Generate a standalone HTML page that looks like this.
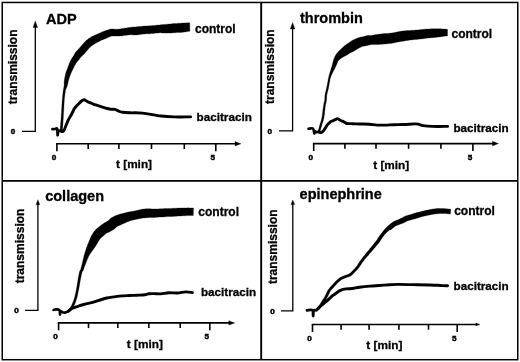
<!DOCTYPE html>
<html><head><meta charset="utf-8"><title>Platelet aggregation</title>
<style>html,body{margin:0;padding:0;background:#fff;width:520px;height:362px;overflow:hidden}svg{display:block;filter:grayscale(1)}</style>
</head><body>
<svg width="520" height="362" viewBox="0 0 520 362">
<rect x="0" y="0" width="520" height="362" fill="#fff"/>
<rect x="2.25" y="2.45" width="515.5" height="357.25" fill="none" stroke="#000" stroke-width="1.5"/>
<path d="M261.2 2.4 V359.8 M2 180.85 H517.9" stroke="#000" stroke-width="1.9"/>
<path d="M35.3 26.5 V131.4 H22" fill="none" stroke="#000" stroke-width="1.3"/>
<path d="M35.3 21 L33.0 27.5 L37.599999999999994 27.5 Z" fill="#000" stroke="#000" stroke-width="0.3" stroke-linejoin="round"/>
<path d="M56.1 143.8 H236" fill="none" stroke="#000" stroke-width="1.6"/>
<path d="M241 143.8 L235 141.5 L235 146.10000000000002 Z" fill="#000" stroke="#000" stroke-width="0.3" stroke-linejoin="round"/>
<path d="M56.9 143.8 V151.20000000000002" stroke="#000" stroke-width="1.6"/>
<path d="M88.2 143.8 V149.0" stroke="#000" stroke-width="1.6"/>
<path d="M118.9 143.8 V149.0" stroke="#000" stroke-width="1.6"/>
<path d="M151.5 143.8 V149.0" stroke="#000" stroke-width="1.6"/>
<path d="M184.3 143.8 V149.0" stroke="#000" stroke-width="1.6"/>
<path d="M215.8 143.8 V151.20000000000002" stroke="#000" stroke-width="1.6"/>
<text x="13" y="133.7" font-family="Liberation Sans, sans-serif" font-weight="bold" stroke="#000" stroke-width="0.5" font-size="8.1" text-anchor="middle">0</text>
<text x="53.9" y="160.1" font-family="Liberation Sans, sans-serif" font-weight="bold" stroke="#000" stroke-width="0.5" font-size="8.1" text-anchor="middle">0</text>
<text x="212.8" y="160.1" font-family="Liberation Sans, sans-serif" font-weight="bold" stroke="#000" stroke-width="0.5" font-size="8.1" text-anchor="middle">5</text>
<text x="116" y="168" font-family="Liberation Sans, sans-serif" font-weight="bold" stroke="#000" stroke-width="0.3" font-size="11.8">t [min]</text>
<text transform="translate(16.6 104.2) rotate(-90)" font-family="Liberation Sans, sans-serif" font-weight="bold" stroke="#000" stroke-width="0.3" font-size="12">transmission</text>
<text x="46" y="23.5" font-family="Liberation Sans, sans-serif" font-weight="bold" stroke="#000" stroke-width="0.3" font-size="14.5">ADP</text>
<text x="195" y="33.4" font-family="Liberation Sans, sans-serif" font-weight="bold" stroke="#000" stroke-width="0.3" font-size="12">control</text>
<text x="196.6" y="120.8" font-family="Liberation Sans, sans-serif" font-weight="bold" stroke="#000" stroke-width="0.3" font-size="11.7">bacitracin</text>
<path d="M292.6 28.0 V130.9 H279" fill="none" stroke="#000" stroke-width="1.3"/>
<path d="M292.6 22.5 L290.3 29.0 L294.90000000000003 29.0 Z" fill="#000" stroke="#000" stroke-width="0.3" stroke-linejoin="round"/>
<path d="M312.9 143.6 H493.5" fill="none" stroke="#000" stroke-width="1.6"/>
<path d="M498.5 143.6 L492.5 141.29999999999998 L492.5 145.9 Z" fill="#000" stroke="#000" stroke-width="0.3" stroke-linejoin="round"/>
<path d="M313.7 143.6 V151.0" stroke="#000" stroke-width="1.6"/>
<path d="M344.9 143.6 V148.79999999999998" stroke="#000" stroke-width="1.6"/>
<path d="M376.0 143.6 V148.79999999999998" stroke="#000" stroke-width="1.6"/>
<path d="M408.6 143.6 V148.79999999999998" stroke="#000" stroke-width="1.6"/>
<path d="M440.9 143.6 V148.79999999999998" stroke="#000" stroke-width="1.6"/>
<path d="M472.9 143.6 V151.0" stroke="#000" stroke-width="1.6"/>
<text x="269.7" y="133.6" font-family="Liberation Sans, sans-serif" font-weight="bold" stroke="#000" stroke-width="0.5" font-size="8.1" text-anchor="middle">0</text>
<text x="310.7" y="160.1" font-family="Liberation Sans, sans-serif" font-weight="bold" stroke="#000" stroke-width="0.5" font-size="8.1" text-anchor="middle">0</text>
<text x="469.9" y="160.1" font-family="Liberation Sans, sans-serif" font-weight="bold" stroke="#000" stroke-width="0.5" font-size="8.1" text-anchor="middle">5</text>
<text x="373.2" y="169" font-family="Liberation Sans, sans-serif" font-weight="bold" stroke="#000" stroke-width="0.3" font-size="11.8">t [min]</text>
<text transform="translate(273.8 104.0) rotate(-90)" font-family="Liberation Sans, sans-serif" font-weight="bold" stroke="#000" stroke-width="0.3" font-size="12">transmission</text>
<text x="300" y="22.7" font-family="Liberation Sans, sans-serif" font-weight="bold" stroke="#000" stroke-width="0.3" font-size="14.5">thrombin</text>
<text x="451.5" y="38.3" font-family="Liberation Sans, sans-serif" font-weight="bold" stroke="#000" stroke-width="0.3" font-size="12">control</text>
<text x="453.4" y="131.9" font-family="Liberation Sans, sans-serif" font-weight="bold" stroke="#000" stroke-width="0.3" font-size="11.7">bacitracin</text>
<path d="M37.9 203.7 V310.3 H25.1" fill="none" stroke="#000" stroke-width="1.3"/>
<path d="M37.9 199.7 L36.0 204.7 L39.8 204.7 Z" fill="#000" stroke="#000" stroke-width="0.3" stroke-linejoin="round"/>
<path d="M57.800000000000004 322.9 H229.8" fill="none" stroke="#000" stroke-width="1.6"/>
<path d="M234.8 322.9 L228.8 320.7 L228.8 325.09999999999997 Z" fill="#000" stroke="#000" stroke-width="0.3" stroke-linejoin="round"/>
<path d="M58.6 322.9 V330.29999999999995" stroke="#000" stroke-width="1.6"/>
<path d="M88.5 322.9 V328.09999999999997" stroke="#000" stroke-width="1.6"/>
<path d="M117.8 322.9 V328.09999999999997" stroke="#000" stroke-width="1.6"/>
<path d="M148.8 322.9 V328.09999999999997" stroke="#000" stroke-width="1.6"/>
<path d="M180.2 322.9 V328.09999999999997" stroke="#000" stroke-width="1.6"/>
<path d="M209.8 322.9 V330.29999999999995" stroke="#000" stroke-width="1.6"/>
<text x="16.5" y="313.0" font-family="Liberation Sans, sans-serif" font-weight="bold" stroke="#000" stroke-width="0.5" font-size="8.1" text-anchor="middle">0</text>
<text x="55.6" y="339.1" font-family="Liberation Sans, sans-serif" font-weight="bold" stroke="#000" stroke-width="0.5" font-size="8.1" text-anchor="middle">0</text>
<text x="206.8" y="339.1" font-family="Liberation Sans, sans-serif" font-weight="bold" stroke="#000" stroke-width="0.5" font-size="8.1" text-anchor="middle">5</text>
<text x="126.8" y="347.6" font-family="Liberation Sans, sans-serif" font-weight="bold" stroke="#000" stroke-width="0.3" font-size="11.8">t [min]</text>
<text transform="translate(24.2 283.3) rotate(-90)" font-family="Liberation Sans, sans-serif" font-weight="bold" stroke="#000" stroke-width="0.3" font-size="12">transmission</text>
<text x="45.2" y="200.7" font-family="Liberation Sans, sans-serif" font-weight="bold" stroke="#000" stroke-width="0.3" font-size="14.5">collagen</text>
<text x="198.3" y="216.1" font-family="Liberation Sans, sans-serif" font-weight="bold" stroke="#000" stroke-width="0.3" font-size="12">control</text>
<text x="200.9" y="296.1" font-family="Liberation Sans, sans-serif" font-weight="bold" stroke="#000" stroke-width="0.3" font-size="11.7">bacitracin</text>
<path d="M292.8 203.6 V310.9 H280.9" fill="none" stroke="#000" stroke-width="1.3"/>
<path d="M292.8 200 L290.90000000000003 204.6 L294.7 204.6 Z" fill="#000" stroke="#000" stroke-width="0.3" stroke-linejoin="round"/>
<path d="M311.7 324.5 H476.8" fill="none" stroke="#000" stroke-width="1.6"/>
<path d="M480 324.5 L475.8 323.1 L475.8 325.9 Z" fill="#000" stroke="#000" stroke-width="0.3" stroke-linejoin="round"/>
<path d="M312.5 324.5 V331.9" stroke="#000" stroke-width="1.6"/>
<path d="M341.1 324.5 V329.7" stroke="#000" stroke-width="1.6"/>
<path d="M369.1 324.5 V329.7" stroke="#000" stroke-width="1.6"/>
<path d="M398.9 324.5 V329.7" stroke="#000" stroke-width="1.6"/>
<path d="M428.5 324.5 V329.7" stroke="#000" stroke-width="1.6"/>
<path d="M457.2 324.5 V331.9" stroke="#000" stroke-width="1.6"/>
<text x="272.5" y="314.20000000000005" font-family="Liberation Sans, sans-serif" font-weight="bold" stroke="#000" stroke-width="0.5" font-size="8.1" text-anchor="middle">0</text>
<text x="309.5" y="340.5" font-family="Liberation Sans, sans-serif" font-weight="bold" stroke="#000" stroke-width="0.5" font-size="8.1" text-anchor="middle">0</text>
<text x="454.2" y="340.5" font-family="Liberation Sans, sans-serif" font-weight="bold" stroke="#000" stroke-width="0.5" font-size="8.1" text-anchor="middle">5</text>
<text x="366.3" y="349.2" font-family="Liberation Sans, sans-serif" font-weight="bold" stroke="#000" stroke-width="0.3" font-size="11.8">t [min]</text>
<text transform="translate(276.6 284.1) rotate(-90)" font-family="Liberation Sans, sans-serif" font-weight="bold" stroke="#000" stroke-width="0.3" font-size="12">transmission</text>
<text x="299.6" y="198.8" font-family="Liberation Sans, sans-serif" font-weight="bold" stroke="#000" stroke-width="0.3" font-size="14.5">epinephrine</text>
<text x="454.2" y="215.4" font-family="Liberation Sans, sans-serif" font-weight="bold" stroke="#000" stroke-width="0.3" font-size="12">control</text>
<text x="453.5" y="289.6" font-family="Liberation Sans, sans-serif" font-weight="bold" stroke="#000" stroke-width="0.3" font-size="11.7">bacitracin</text>
<path d="M52.40 129.20 C52.83 129.17 54.20 129.05 55.00 129.00 C55.80 128.95 56.77 127.87 57.20 128.90 C57.63 129.93 57.40 134.88 57.60 135.20 C57.80 135.52 57.92 131.47 58.40 130.80 C58.88 130.13 59.83 131.07 60.50 131.20 C61.17 131.33 62.08 131.53 62.40 131.60" fill="none" stroke="#000" stroke-width="2.7" stroke-linejoin="round" stroke-linecap="round"/>
<path d="M61.00 130.50 C61.43 130.58 62.80 131.75 63.60 131.00 C64.40 130.25 65.02 127.83 65.80 126.00 C66.58 124.17 67.33 121.97 68.30 120.00 C69.27 118.03 70.57 116.13 71.60 114.20 C72.63 112.27 73.40 110.05 74.50 108.40 C75.60 106.75 77.03 105.53 78.20 104.30 C79.37 103.07 80.53 101.77 81.50 101.00 C82.47 100.23 83.17 99.70 84.00 99.70 C84.83 99.70 85.83 100.63 86.50 101.00 C87.17 101.37 87.12 101.50 88.00 101.90 C88.88 102.30 90.52 102.90 91.80 103.40 C93.08 103.90 94.42 104.45 95.70 104.90 C96.98 105.35 98.22 105.68 99.50 106.10 C100.78 106.52 102.12 107.00 103.40 107.40 C104.68 107.80 105.92 108.18 107.20 108.50 C108.48 108.82 109.82 109.15 111.10 109.30 C112.38 109.45 113.62 109.10 114.90 109.40 C116.18 109.70 117.52 110.62 118.80 111.10 C120.08 111.58 120.67 112.02 122.60 112.30 C124.53 112.58 127.08 112.67 130.40 112.80 C133.72 112.93 137.40 112.57 142.50 113.10 C147.60 113.63 155.79 115.37 161.00 116.00 C166.21 116.63 168.82 116.75 173.75 116.90 C178.68 117.05 187.79 116.90 190.60 116.90" fill="none" stroke="#000" stroke-width="2.9" stroke-linejoin="round" stroke-linecap="round"/>
<path d="M308.50 128.80 C309.25 128.77 312.03 127.83 313.00 128.60 C313.97 129.37 313.92 132.93 314.30 133.40 C314.68 133.87 314.95 131.60 315.30 131.40 C315.65 131.20 315.85 132.12 316.40 132.20 C316.95 132.28 317.93 131.83 318.60 131.90 C319.27 131.97 320.10 132.48 320.40 132.60" fill="none" stroke="#000" stroke-width="2.6" stroke-linejoin="round" stroke-linecap="round"/>
<path d="M318.60 131.90 C318.90 132.02 319.87 132.55 320.40 132.60 C320.93 132.65 321.25 132.55 321.80 132.20 C322.35 131.85 323.05 131.28 323.70 130.50 C324.35 129.72 325.07 128.48 325.70 127.50 C326.33 126.52 326.87 125.42 327.50 124.60 C328.13 123.78 328.85 123.15 329.50 122.60 C330.15 122.05 330.45 121.78 331.40 121.30 C332.35 120.82 334.18 120.15 335.20 119.70 C336.22 119.25 336.60 118.47 337.50 118.60 C338.40 118.73 339.57 119.98 340.60 120.50 C341.63 121.02 342.67 121.20 343.70 121.70 C344.73 122.20 345.65 123.18 346.80 123.50 C347.95 123.82 349.07 123.53 350.60 123.60 C352.13 123.67 354.15 123.83 356.00 123.90 C357.85 123.97 359.47 123.93 361.70 124.00 C363.93 124.07 366.83 124.12 369.40 124.30 C371.97 124.48 374.53 124.97 377.10 125.10 C379.67 125.23 381.98 125.17 384.80 125.10 C387.62 125.03 390.88 124.80 394.00 124.70 C397.12 124.60 399.98 124.63 403.50 124.50 C407.02 124.37 412.52 123.92 415.10 123.90 C417.68 123.88 417.67 124.12 419.00 124.40 C420.33 124.68 420.87 125.27 423.10 125.60 C425.33 125.93 428.32 126.27 432.40 126.40 C436.48 126.53 445.07 126.40 447.60 126.40" fill="none" stroke="#000" stroke-width="2.9" stroke-linejoin="round" stroke-linecap="round"/>
<path d="M53.60 309.90 C54.00 309.82 55.02 309.35 56.00 309.40 C56.98 309.45 58.83 309.33 59.50 310.20 C60.17 311.07 59.85 314.43 60.00 314.60 C60.15 314.77 59.98 311.60 60.40 311.20 C60.82 310.80 61.80 311.97 62.50 312.20 C63.20 312.43 63.70 312.75 64.60 312.60 C65.50 312.45 66.80 311.93 67.90 311.30 C69.00 310.67 70.65 309.22 71.20 308.80" fill="none" stroke="#000" stroke-width="2.6" stroke-linejoin="round" stroke-linecap="round"/>
<path d="M68.50 311.30 C68.95 310.88 69.95 309.53 71.20 308.80 C72.45 308.07 74.70 307.38 76.00 306.90 C77.30 306.42 77.72 306.30 79.00 305.90 C80.28 305.50 81.63 305.05 83.70 304.50 C85.77 303.95 88.83 303.30 91.40 302.60 C93.97 301.90 96.53 301.07 99.10 300.30 C101.67 299.53 104.32 298.57 106.80 298.00 C109.28 297.43 111.52 297.25 114.00 296.90 C116.48 296.55 119.13 296.13 121.70 295.90 C124.27 295.67 126.83 295.62 129.40 295.50 C131.97 295.38 134.53 295.32 137.10 295.20 C139.67 295.08 142.88 295.03 144.80 294.80 C146.72 294.57 147.07 294.00 148.60 293.80 C150.13 293.60 152.02 293.58 154.00 293.60 C155.98 293.62 158.02 294.03 160.50 293.90 C162.98 293.77 166.08 292.95 168.90 292.80 C171.72 292.65 174.58 293.15 177.40 293.00 C180.22 292.85 183.30 291.97 185.80 291.90 C188.30 291.83 191.30 292.48 192.40 292.60" fill="none" stroke="#000" stroke-width="2.9" stroke-linejoin="round" stroke-linecap="round"/>
<path d="M307.00 310.40 C307.92 310.38 311.48 309.37 312.50 310.30 C313.52 311.23 312.90 315.95 313.10 316.00 C313.30 316.05 313.15 311.57 313.70 310.60 C314.25 309.63 315.65 310.53 316.40 310.20 C317.15 309.87 317.90 308.87 318.20 308.60" fill="none" stroke="#000" stroke-width="2.8" stroke-linejoin="round" stroke-linecap="round"/>
<path d="M318.00 308.60 C318.67 308.00 320.83 306.02 322.00 305.00 C323.17 303.98 324.00 303.37 325.00 302.50 C326.00 301.63 327.08 300.62 328.00 299.80 C328.92 298.98 329.73 298.28 330.50 297.60 C331.27 296.92 331.57 296.52 332.60 295.70 C333.63 294.88 335.32 293.62 336.70 292.70 C338.08 291.78 339.35 290.83 340.90 290.20 C342.45 289.57 344.10 289.18 346.00 288.90 C347.90 288.62 350.03 288.78 352.30 288.50 C354.57 288.22 356.65 287.60 359.60 287.20 C362.55 286.80 366.80 286.38 370.00 286.10 C373.20 285.82 375.47 285.72 378.80 285.50 C382.13 285.28 386.80 284.98 390.00 284.80 C393.20 284.62 393.45 284.42 398.00 284.40 C402.55 284.38 411.97 284.60 417.30 284.70 C422.63 284.80 426.55 284.90 430.00 285.00 C433.45 285.10 436.00 285.20 438.00 285.30 C440.00 285.40 440.40 285.52 442.00 285.60 C443.60 285.68 446.67 285.77 447.60 285.80" fill="none" stroke="#000" stroke-width="2.9" stroke-linejoin="round" stroke-linecap="round"/>
<path d="M62.4 130.9 62.4 130.6 62.4 130.2 62.5 129.8 62.5 129.3 62.5 128.8 62.6 128.3 62.6 127.7 62.7 127.1 62.7 126.5 62.8 125.9 62.8 125.2 62.9 124.6 62.9 123.9 62.9 123.2 63.0 122.5 63.0 121.9 63.1 121.2 63.1 120.5 63.2 119.9 63.2 119.3 63.3 118.7 63.3 118.1 63.3 117.5 63.4 116.9 63.4 116.3 63.4 115.6 63.5 115.0 63.5 114.4 63.5 113.8 63.6 113.2 63.6 112.5 63.6 111.9 63.7 111.3 63.7 110.7 63.7 110.2 63.8 109.6 63.8 109.0 63.8 108.5 63.8 108.0 63.9 107.5 63.9 107.0 63.9 106.5 63.9 106.1 64.0 105.3 64.0 104.6 64.1 104.0 64.1 103.4 64.1 102.9 64.2 102.4 64.2 101.9 64.2 101.5 64.3 101.0 64.3 100.6 64.3 100.1 64.4 99.5 64.4 98.9 64.5 98.3 64.5 97.8 64.6 97.2 64.7 96.7 64.7 96.1 64.8 95.6 64.8 95.0 64.9 94.5 65.0 93.9 65.1 93.3 65.2 92.8 65.2 92.2 65.3 91.7 65.4 91.1 65.5 90.6 65.6 90.1 65.8 89.6 66.0 89.1 66.2 88.6 66.4 88.1 66.6 87.6 66.9 87.1 67.1 86.5 67.3 85.9 67.4 85.3 67.6 84.7 67.7 84.2 67.8 83.7 67.9 83.2 68.0 82.7 68.1 82.2 68.2 81.7 68.3 81.2 68.5 80.7 68.6 80.2 68.7 79.7 68.9 79.2 69.1 78.6 69.2 78.1 69.4 77.6 69.5 77.1 69.7 76.6 69.9 76.1 70.1 75.6 70.3 75.1 70.5 74.6 70.7 74.1 70.9 73.6 71.0 73.2 71.2 72.7 71.4 72.3 71.6 71.8 71.9 71.4 72.1 70.9 72.3 70.4 72.5 69.9 72.8 69.4 73.0 68.9 73.3 68.4 73.5 68.0 73.7 67.5 74.0 67.0 74.2 66.6 74.4 66.1 74.7 65.7 74.9 65.2 75.2 64.8 75.4 64.3 75.7 63.9 75.9 63.5 76.2 63.1 76.4 62.7 76.7 62.4 77.0 62.0 77.4 61.6 77.7 61.1 78.1 60.7 78.5 60.2 78.9 59.7 79.3 59.2 79.7 58.6 80.1 58.1 80.4 57.7 80.7 57.3 81.0 56.9 81.3 56.7 81.6 56.4 81.9 56.1 82.2 55.8 82.6 55.5 83.1 55.1 83.6 54.6 84.0 54.2 84.4 53.7 84.7 53.3 85.1 52.9 85.5 52.5 85.8 52.0 86.2 51.6 86.6 51.1 87.0 50.7 87.3 50.2 87.7 49.8 88.0 49.4 88.3 49.0 88.7 48.7 89.0 48.3 89.4 47.9 89.7 47.6 90.0 47.3 90.3 47.0 90.7 46.7 91.1 46.4 91.4 46.1 91.8 45.8 92.2 45.5 92.6 45.2 93.1 44.9 93.5 44.6 93.9 44.4 94.4 44.1 94.8 43.8 95.2 43.6 95.6 43.3 96.1 43.0 96.6 42.8 97.1 42.5 97.6 42.2 98.1 42.0 98.5 41.7 99.0 41.5 99.5 41.2 99.9 41.0 100.4 40.8 100.9 40.5 101.3 40.3 101.8 40.1 102.4 39.9 102.9 39.7 103.4 39.5 103.9 39.3 104.4 39.1 105.0 38.9 105.5 38.7 105.9 38.4 106.4 38.2 106.8 38.0 107.2 37.8 107.7 37.6 108.2 37.4 108.7 37.2 109.2 36.9 109.7 36.7 110.2 36.5 110.6 36.4 111.0 36.2 111.4 36.1 111.7 36.1 112.0 36.0 112.3 36.0 112.8 36.0 113.3 36.0 113.8 36.0 114.5 36.0 115.1 36.0 115.7 36.0 116.2 36.0 116.7 36.1 117.2 36.1 117.8 36.1 118.4 36.1 119.0 36.1 119.7 36.1 120.3 36.0 121.0 36.0 121.6 35.9 122.2 35.8 122.7 35.7 123.3 35.6 124.0 35.6 124.5 35.5 125.1 35.4 125.7 35.3 126.3 35.3 127.0 35.2 127.6 35.1 128.3 35.0 128.9 34.9 129.4 34.9 129.9 34.8 130.3 34.8 131.0 34.8 131.5 34.8 131.9 34.8 132.3 34.8 132.9 34.9 133.5 34.9 134.0 34.9 134.5 34.9 135.0 34.9 135.7 34.9 136.4 34.9 137.3 34.9 137.8 34.8 138.3 34.8 138.9 34.7 139.5 34.6 140.0 34.5 140.6 34.4 141.2 34.3 141.9 34.3 142.5 34.2 143.0 34.1 143.6 34.0 144.1 34.0 144.7 33.9 145.2 33.9 145.8 33.9 146.4 33.8 147.0 33.8 147.6 33.8 148.2 33.8 148.8 33.8 149.3 33.7 149.9 33.7 150.4 33.7 151.0 33.6 151.7 33.6 152.3 33.5 152.8 33.5 153.4 33.4 153.9 33.4 154.3 33.3 154.8 33.2 155.4 33.2 155.9 33.1 156.4 33.1 157.0 33.0 157.5 33.0 158.0 32.9 158.5 32.9 159.0 32.9 159.6 32.8 160.2 32.8 160.6 32.8 161.1 32.8 161.6 32.9 162.1 32.9 162.7 32.9 163.2 33.0 163.8 33.0 164.4 33.0 165.0 33.1 165.6 33.1 166.2 33.1 166.8 33.1 167.4 33.1 168.1 33.1 168.7 33.1 169.3 33.1 169.9 33.0 170.5 33.0 171.1 32.9 171.7 32.9 172.3 32.9 172.9 32.8 173.5 32.8 174.0 32.8 174.6 32.7 175.1 32.7 175.7 32.7 176.2 32.6 176.8 32.6 177.3 32.6 177.9 32.6 178.5 32.5 179.0 32.5 179.6 32.5 180.2 32.4 180.7 32.4 181.3 32.4 181.9 32.3 182.5 32.3 183.2 32.2 183.9 32.1 184.5 32.0 185.2 31.9 185.8 31.8 186.4 31.7 186.9 31.6 187.4 31.5 187.8 31.4 188.2 31.4 188.9 31.3 189.3 31.2 189.6 31.2 189.9 31.1 189.7 22.9 189.5 22.8 189.1 22.8 188.4 22.8 187.4 22.8 187.0 22.8 186.5 22.9 185.9 22.9 185.4 22.9 184.8 23.0 184.2 23.0 183.6 23.0 182.9 23.1 182.3 23.1 181.7 23.1 181.1 23.2 180.7 23.2 180.2 23.2 179.6 23.3 179.1 23.3 178.6 23.3 178.0 23.3 177.4 23.4 176.9 23.4 176.3 23.4 175.7 23.5 175.2 23.5 174.6 23.5 174.0 23.6 173.4 23.6 172.7 23.7 172.1 23.7 171.5 23.8 170.9 23.9 170.4 23.9 169.8 24.0 169.2 24.1 168.6 24.1 168.1 24.2 167.5 24.2 167.0 24.3 166.5 24.3 166.0 24.4 165.4 24.4 164.9 24.5 164.3 24.5 163.7 24.6 163.1 24.6 162.6 24.6 162.0 24.7 161.4 24.7 160.9 24.8 160.3 24.8 159.8 24.9 159.1 25.0 158.4 25.0 157.8 25.1 157.2 25.1 156.6 25.2 156.1 25.2 155.6 25.3 155.1 25.4 154.6 25.4 154.1 25.5 153.5 25.5 153.0 25.6 152.6 25.6 152.1 25.6 151.6 25.7 151.1 25.7 150.4 25.8 150.0 25.8 149.5 25.8 149.0 25.8 148.4 25.9 147.9 25.9 147.3 25.9 146.6 25.9 146.0 26.0 145.4 26.0 144.7 26.0 144.1 26.1 143.5 26.1 142.8 26.2 142.2 26.2 141.5 26.3 140.9 26.4 140.3 26.4 139.6 26.5 139.0 26.6 138.4 26.6 137.9 26.7 137.4 26.7 136.9 26.8 136.5 26.8 135.8 26.9 135.3 27.0 134.8 27.0 134.4 27.0 133.9 27.1 133.3 27.1 132.8 27.1 132.4 27.2 131.9 27.2 131.2 27.2 130.5 27.3 129.7 27.4 129.1 27.5 128.5 27.6 127.9 27.7 127.3 27.8 126.6 27.9 125.9 28.0 125.3 28.1 124.7 28.2 124.1 28.3 123.5 28.4 123.0 28.4 122.2 28.6 121.6 28.7 121.0 28.8 120.5 28.9 120.0 29.0 119.6 29.1 119.1 29.1 118.7 29.1 118.3 29.2 117.8 29.2 117.4 29.2 116.8 29.2 116.3 29.2 115.8 29.2 115.3 29.2 114.7 29.2 114.2 29.1 113.6 29.1 112.9 29.0 112.2 29.0 111.4 29.1 110.5 29.1 109.8 29.3 109.1 29.5 108.4 29.7 107.7 29.9 107.2 30.1 106.6 30.3 106.1 30.5 105.6 30.6 105.1 30.8 104.5 31.0 104.0 31.2 103.5 31.4 103.0 31.6 102.5 31.7 102.0 31.9 101.5 32.2 101.0 32.4 100.4 32.7 99.9 33.0 99.4 33.2 98.8 33.5 98.4 33.7 97.9 33.9 97.4 34.1 96.9 34.3 96.4 34.5 95.8 34.8 95.3 35.0 94.7 35.2 94.2 35.5 93.7 35.7 93.1 36.0 92.6 36.3 92.0 36.5 91.4 36.8 90.8 37.2 90.2 37.5 89.7 37.9 89.1 38.2 88.6 38.6 88.1 39.0 87.6 39.4 87.1 39.8 86.6 40.2 86.1 40.6 85.6 41.1 85.2 41.5 84.7 42.0 84.3 42.4 83.9 42.9 83.5 43.3 83.1 43.7 82.7 44.2 82.3 44.7 81.9 45.1 81.6 45.6 81.2 46.0 80.9 46.4 80.6 46.8 80.2 47.2 79.9 47.6 79.5 48.0 79.2 48.4 78.8 48.7 78.5 49.1 78.2 49.4 77.9 49.7 77.6 50.1 77.2 50.5 76.7 50.9 76.2 51.5 75.7 52.1 75.3 52.7 74.9 53.3 74.6 53.9 74.3 54.4 74.0 55.0 73.8 55.5 73.5 55.9 73.2 56.3 72.9 56.8 72.6 57.2 72.3 57.7 71.9 58.3 71.5 58.9 71.2 59.5 70.9 60.0 70.6 60.5 70.3 61.0 70.1 61.6 69.9 62.1 69.6 62.6 69.4 63.1 69.2 63.7 69.0 64.2 68.8 64.8 68.6 65.3 68.4 65.8 68.2 66.4 68.0 66.9 67.8 67.4 67.7 67.9 67.5 68.4 67.3 68.8 67.1 69.3 66.9 69.8 66.7 70.3 66.5 70.9 66.3 71.4 66.1 72.0 66.0 72.5 65.8 73.1 65.7 73.6 65.5 74.2 65.4 74.7 65.3 75.3 65.1 75.9 65.0 76.4 64.9 77.0 64.8 77.6 64.7 78.1 64.6 78.7 64.4 79.3 64.4 79.9 64.3 80.5 64.2 81.1 64.1 81.7 64.1 82.3 64.1 82.8 64.1 83.3 64.2 83.9 64.2 84.3 64.2 84.8 64.1 85.3 64.1 85.8 64.0 86.2 63.9 86.8 63.8 87.3 63.7 87.8 63.6 88.4 63.5 89.0 63.4 89.7 63.3 90.2 63.2 90.8 63.1 91.3 63.0 91.9 63.0 92.5 62.9 93.1 62.9 93.6 62.8 94.2 62.8 94.8 62.7 95.3 62.6 95.9 62.6 96.5 62.5 97.0 62.5 97.6 62.4 98.1 62.4 98.7 62.3 99.3 62.3 99.9 62.2 100.4 62.2 100.9 62.1 101.3 62.1 101.8 62.1 102.3 62.0 102.7 62.0 103.3 62.0 103.8 61.9 104.5 61.9 105.2 61.9 105.9 61.8 106.4 61.8 106.8 61.8 107.3 61.7 107.8 61.7 108.4 61.7 108.9 61.6 109.5 61.6 110.0 61.6 110.6 61.5 111.2 61.5 111.8 61.5 112.4 61.4 113.0 61.4 113.7 61.3 114.3 61.3 114.9 61.3 115.5 61.2 116.1 61.2 116.7 61.1 117.3 61.1 117.9 61.1 118.5 61.0 119.1 61.0 119.7 60.9 120.4 60.9 121.0 60.8 121.7 60.7 122.4 60.7 123.0 60.6 123.7 60.6 124.4 60.5 125.1 60.5 125.7 60.4 126.3 60.3 127.0 60.3 127.6 60.2 128.1 60.2 128.6 60.1 129.1 60.1 129.6 60.1 130.0 60.0 130.4 60.0 130.7Z" fill="#000" stroke="#000" stroke-width="0.3" stroke-linejoin="round"/>
<path d="M320.0 131.8 320.1 131.4 320.2 131.0 320.3 130.5 320.5 130.0 320.6 129.4 320.8 128.7 321.0 128.1 321.2 127.4 321.4 126.8 321.5 126.2 321.7 125.6 321.9 125.1 322.0 124.5 322.2 123.9 322.4 123.3 322.6 122.8 322.7 122.3 322.9 121.8 323.1 121.2 323.2 120.7 323.4 120.1 323.5 119.6 323.6 119.0 323.8 118.5 323.9 117.9 324.0 117.3 324.1 116.8 324.2 116.2 324.3 115.6 324.4 115.0 324.5 114.5 324.5 113.9 324.6 113.3 324.6 112.8 324.7 112.2 324.7 111.6 324.8 111.1 324.8 110.6 324.9 110.0 325.0 109.5 325.0 108.9 325.1 108.4 325.1 107.9 325.2 107.3 325.3 106.8 325.4 106.2 325.5 105.7 325.5 105.2 325.6 104.6 325.7 104.1 325.9 103.5 326.0 103.0 326.1 102.4 326.2 101.9 326.4 101.3 326.5 100.7 326.5 100.1 326.6 99.5 326.6 98.9 326.7 98.3 326.7 97.8 326.7 97.2 326.7 96.6 326.7 96.1 326.8 95.6 326.8 95.1 326.9 94.6 327.0 94.1 327.2 93.6 327.3 93.1 327.4 92.6 327.6 92.1 327.7 91.5 327.8 91.0 328.0 90.4 328.1 89.9 328.2 89.3 328.4 88.7 328.5 88.2 328.6 87.6 328.7 87.0 328.8 86.4 328.9 85.9 329.0 85.3 329.1 84.7 329.2 84.2 329.3 83.6 329.4 83.1 329.5 82.6 329.6 82.0 329.7 81.4 329.8 80.9 329.9 80.4 330.0 79.8 330.1 79.3 330.2 78.8 330.3 78.3 330.5 77.8 330.7 77.3 330.8 76.8 331.0 76.3 331.2 75.7 331.4 75.2 331.7 74.7 331.9 74.2 332.2 73.7 332.4 73.1 332.7 72.6 333.0 72.1 333.2 71.5 333.5 71.0 333.7 70.6 334.0 70.0 334.3 69.5 334.5 69.0 334.7 68.6 335.0 68.1 335.2 67.6 335.4 67.2 335.7 66.6 335.9 66.1 336.2 65.6 336.4 65.1 336.7 64.6 336.9 64.0 337.2 63.4 337.4 62.8 337.5 62.3 337.7 61.8 337.9 61.4 338.1 61.0 338.4 60.7 338.7 60.4 339.0 60.1 339.4 59.7 339.8 59.4 340.1 59.1 340.5 58.8 340.9 58.6 341.2 58.3 341.6 58.1 342.0 57.8 342.4 57.6 342.8 57.3 343.3 57.0 343.7 56.8 344.1 56.6 344.5 56.3 345.0 56.1 345.5 55.8 346.0 55.6 346.6 55.3 347.2 55.0 347.7 54.6 348.2 54.2 348.7 53.9 349.2 53.6 349.6 53.3 350.1 53.0 350.4 52.8 350.8 52.6 351.3 52.4 351.7 52.2 352.2 52.0 352.8 51.7 353.4 51.4 354.1 51.1 354.6 50.7 355.2 50.4 355.7 50.1 356.1 49.8 356.5 49.5 356.9 49.3 357.3 49.0 357.8 48.8 358.1 48.6 358.6 48.3 359.1 48.1 359.6 47.8 360.1 47.5 360.6 47.3 361.1 47.0 361.6 46.8 362.0 46.6 362.3 46.5 362.7 46.4 362.9 46.3 363.2 46.3 363.6 46.2 364.1 46.1 364.7 46.0 365.4 45.9 366.1 45.8 366.7 45.6 367.2 45.5 367.7 45.4 368.1 45.3 368.5 45.2 368.8 45.2 369.1 45.1 369.5 45.0 369.9 44.9 370.3 44.8 370.8 44.7 371.3 44.6 371.9 44.5 372.4 44.5 372.9 44.5 373.4 44.5 373.9 44.6 374.5 44.6 375.1 44.6 375.7 44.6 376.5 44.6 376.9 44.5 377.4 44.5 378.0 44.5 378.5 44.4 379.1 44.4 379.6 44.4 380.2 44.3 380.8 44.3 381.4 44.2 382.0 44.2 382.6 44.2 383.1 44.1 383.7 44.1 384.2 44.0 384.7 44.0 385.2 43.9 385.8 43.9 386.3 43.8 386.9 43.8 387.5 43.8 388.0 43.7 388.6 43.6 389.2 43.6 389.8 43.5 390.4 43.4 391.1 43.4 391.7 43.3 392.3 43.2 393.0 43.0 393.6 42.9 394.2 42.8 394.8 42.7 395.4 42.6 395.9 42.4 396.5 42.3 397.0 42.2 397.5 42.1 398.0 42.0 398.4 41.9 399.1 41.8 399.7 41.7 400.2 41.6 400.7 41.5 401.1 41.5 401.6 41.4 402.1 41.3 402.7 41.2 403.2 41.2 403.7 41.1 404.2 41.0 404.7 40.9 405.2 40.8 405.8 40.7 406.3 40.6 406.9 40.5 407.5 40.4 408.0 40.4 408.6 40.3 409.2 40.2 409.7 40.1 410.2 40.1 410.7 40.0 411.2 39.9 411.8 39.9 412.3 39.8 412.8 39.8 413.4 39.7 414.0 39.7 414.5 39.6 415.1 39.6 415.7 39.5 416.2 39.4 416.8 39.4 417.4 39.3 418.1 39.3 418.7 39.2 419.4 39.1 420.0 39.1 420.6 39.0 421.2 38.9 421.8 38.9 422.4 38.8 423.0 38.7 423.5 38.7 424.0 38.6 424.7 38.5 425.3 38.4 425.9 38.3 426.4 38.3 426.9 38.2 427.4 38.1 427.8 38.0 428.4 38.0 428.9 37.9 429.4 37.9 429.9 37.9 430.4 37.8 430.9 37.8 431.5 37.8 432.1 37.7 432.8 37.7 433.4 37.6 433.9 37.6 434.5 37.5 435.0 37.4 435.6 37.4 436.2 37.3 436.8 37.2 437.4 37.2 438.0 37.1 438.5 37.0 439.1 37.0 439.6 36.9 440.1 36.9 440.6 36.8 441.3 36.7 442.0 36.6 442.6 36.5 443.2 36.4 443.7 36.3 444.2 36.3 444.7 36.2 445.1 36.1 445.7 36.0 446.3 36.0 446.7 35.9 447.2 35.9 447.5 35.8 447.5 29.4 447.2 29.3 446.8 29.3 446.3 29.2 445.6 29.1 444.9 29.1 444.4 29.1 443.9 29.0 443.4 29.0 442.8 28.9 442.2 28.9 441.6 28.9 440.9 28.8 440.2 28.8 439.7 28.8 439.2 28.8 438.7 28.8 438.1 28.8 437.5 28.8 436.9 28.8 436.3 28.8 435.7 28.8 435.1 28.8 434.5 28.8 434.0 28.8 433.4 28.8 433.0 28.8 432.3 28.8 431.7 28.8 431.1 28.8 430.5 28.9 429.9 28.9 429.3 28.9 428.8 28.9 428.2 29.0 427.6 29.0 427.0 29.1 426.4 29.1 425.9 29.1 425.3 29.2 424.8 29.2 424.2 29.3 423.7 29.3 423.0 29.4 422.5 29.4 422.0 29.5 421.4 29.6 420.8 29.6 420.2 29.7 419.6 29.7 419.0 29.8 418.4 29.9 417.8 29.9 417.2 30.0 416.6 30.1 416.0 30.1 415.5 30.1 414.9 30.2 414.4 30.2 413.9 30.2 413.3 30.2 412.8 30.3 412.2 30.3 411.6 30.3 411.1 30.3 410.5 30.4 409.9 30.4 409.3 30.4 408.7 30.5 408.1 30.5 407.5 30.6 406.9 30.6 406.3 30.7 405.7 30.7 405.1 30.8 404.5 30.8 403.9 30.9 403.3 30.9 402.8 31.0 402.3 31.1 401.7 31.1 401.3 31.2 400.5 31.3 399.9 31.4 399.3 31.5 398.8 31.6 398.3 31.7 397.8 31.8 397.2 31.9 396.6 32.1 396.1 32.2 395.6 32.3 395.1 32.4 394.5 32.5 394.0 32.6 393.4 32.7 392.9 32.8 392.3 32.9 391.8 32.9 391.2 33.0 390.7 33.1 390.2 33.2 389.7 33.2 389.3 33.3 388.8 33.3 388.3 33.4 387.8 33.4 387.2 33.5 386.7 33.5 386.2 33.5 385.6 33.5 385.1 33.6 384.5 33.6 383.9 33.6 383.3 33.7 382.7 33.7 382.2 33.8 381.6 33.9 381.0 33.9 380.4 34.0 379.8 34.1 379.2 34.2 378.6 34.2 378.1 34.3 377.5 34.4 377.0 34.4 376.5 34.5 376.0 34.6 375.5 34.6 374.9 34.7 374.2 34.9 373.7 35.0 373.1 35.1 372.6 35.2 372.1 35.3 371.6 35.4 371.1 35.5 370.5 35.5 370.0 35.5 369.5 35.5 368.9 35.5 368.3 35.5 367.7 35.6 367.0 35.6 366.3 35.8 365.7 36.0 365.1 36.1 364.6 36.3 364.1 36.5 363.7 36.6 363.4 36.7 363.1 36.8 362.8 36.8 362.3 36.8 361.7 36.9 361.0 37.0 360.2 37.2 359.3 37.5 358.7 37.7 358.0 37.9 357.4 38.1 356.8 38.4 356.1 38.6 355.5 38.9 354.9 39.2 354.2 39.4 353.6 39.7 353.0 40.0 352.3 40.4 351.7 40.8 351.1 41.2 350.6 41.6 350.1 41.9 349.7 42.2 349.3 42.5 348.9 42.7 348.5 43.0 348.1 43.3 347.6 43.6 347.1 44.0 346.5 44.3 346.0 44.7 345.4 45.2 344.8 45.6 344.2 46.1 343.7 46.5 343.3 46.9 342.8 47.3 342.4 47.7 342.0 48.0 341.7 48.4 341.3 48.8 340.9 49.2 340.4 49.6 339.9 50.0 339.4 50.5 338.9 51.0 338.5 51.4 338.1 51.9 337.8 52.3 337.4 52.8 337.0 53.3 336.6 53.7 336.2 54.2 335.9 54.8 335.5 55.4 335.2 55.9 334.9 56.5 334.6 57.1 334.4 57.7 334.1 58.4 333.9 59.0 333.6 59.7 333.4 60.4 333.3 61.0 333.1 61.6 333.0 62.1 332.9 62.6 332.7 63.1 332.6 63.7 332.4 64.2 332.3 64.7 332.1 65.3 332.0 65.8 331.8 66.3 331.7 66.8 331.5 67.3 331.4 67.8 331.2 68.3 331.0 68.8 330.9 69.4 330.7 69.9 330.6 70.5 330.4 71.0 330.2 71.6 330.0 72.2 329.8 72.8 329.7 73.3 329.5 73.9 329.4 74.4 329.2 75.1 329.0 75.6 328.9 76.2 328.8 76.8 328.6 77.3 328.5 77.8 328.4 78.4 328.3 79.0 328.2 79.5 328.1 80.0 328.0 80.6 327.9 81.1 327.8 81.7 327.7 82.2 327.6 82.8 327.5 83.3 327.4 83.9 327.3 84.4 327.2 85.0 327.1 85.5 327.0 86.1 326.9 86.6 326.7 87.2 326.6 87.8 326.5 88.3 326.4 88.9 326.2 89.4 326.1 90.0 326.0 90.6 325.9 91.1 325.7 91.6 325.6 92.1 325.4 92.6 325.3 93.1 325.2 93.7 325.1 94.3 325.0 94.9 324.9 95.4 324.9 96.0 324.8 96.6 324.8 97.1 324.8 97.7 324.8 98.3 324.8 98.8 324.7 99.4 324.7 99.9 324.6 100.4 324.5 100.9 324.4 101.5 324.3 102.0 324.1 102.6 324.0 103.1 323.9 103.7 323.8 104.3 323.7 104.8 323.6 105.4 323.5 105.9 323.4 106.5 323.3 107.0 323.2 107.6 323.1 108.1 323.1 108.7 323.0 109.2 322.9 109.8 322.8 110.3 322.8 110.9 322.7 111.5 322.7 112.0 322.6 112.6 322.6 113.1 322.5 113.7 322.5 114.2 322.4 114.8 322.3 115.3 322.2 115.8 322.1 116.4 322.0 116.9 321.9 117.5 321.8 118.0 321.7 118.6 321.6 119.1 321.4 119.7 321.3 120.2 321.1 120.7 321.0 121.2 320.8 121.7 320.7 122.2 320.5 122.7 320.3 123.3 320.1 123.9 319.9 124.5 319.8 125.0 319.6 125.6 319.4 126.2 319.3 126.9 319.1 127.5 318.9 128.2 318.7 128.8 318.5 129.4 318.4 130.0 318.2 130.5 318.1 130.9 318.0 131.2Z" fill="#000" stroke="#000" stroke-width="0.3" stroke-linejoin="round"/>
<path d="M70.4 311.3 70.6 311.0 70.9 310.7 71.3 310.2 71.7 309.7 72.2 309.0 72.4 308.6 72.7 308.2 72.9 307.7 73.2 307.3 73.5 306.8 73.7 306.2 74.0 305.7 74.3 305.1 74.6 304.5 74.8 304.0 75.0 303.5 75.2 302.9 75.4 302.4 75.6 301.8 75.8 301.3 76.0 300.7 76.2 300.1 76.4 299.5 76.6 299.0 76.7 298.4 76.9 297.8 77.1 297.3 77.2 296.7 77.3 296.1 77.5 295.6 77.6 295.0 77.7 294.5 77.8 293.9 77.9 293.4 78.0 292.8 78.1 292.3 78.2 291.8 78.3 291.2 78.4 290.7 78.6 290.1 78.7 289.6 78.8 289.0 78.9 288.5 79.0 288.0 79.1 287.4 79.2 286.9 79.3 286.3 79.4 285.8 79.5 285.3 79.6 284.7 79.7 284.1 79.8 283.5 79.9 282.9 80.0 282.3 80.1 281.7 80.2 281.1 80.3 280.5 80.4 279.9 80.5 279.4 80.6 278.8 80.7 278.2 80.8 277.7 81.0 277.1 81.1 276.5 81.2 275.9 81.3 275.3 81.5 274.7 81.6 274.2 81.7 273.6 81.8 273.2 81.9 272.7 82.0 272.4 82.3 271.8 82.4 271.6 82.8 271.1 83.1 270.4 83.4 269.9 83.6 269.3 83.8 268.8 84.0 268.2 84.1 267.6 84.3 267.0 84.5 266.5 84.7 265.9 85.0 265.4 85.2 264.9 85.4 264.3 85.7 263.8 85.9 263.2 86.1 262.6 86.3 262.1 86.5 261.6 86.7 261.1 86.9 260.6 87.1 260.0 87.3 259.5 87.5 259.0 87.7 258.6 87.9 258.0 88.2 257.5 88.4 257.0 88.6 256.5 88.9 256.0 89.1 255.5 89.4 255.1 89.6 254.6 89.9 254.2 90.2 253.8 90.5 253.3 90.8 252.8 91.1 252.4 91.5 251.9 91.8 251.5 92.1 251.1 92.4 250.6 92.7 250.2 93.0 249.8 93.3 249.4 93.6 248.9 93.9 248.5 94.3 248.0 94.6 247.6 94.9 247.2 95.2 246.7 95.5 246.2 95.8 245.8 96.1 245.3 96.5 244.8 96.8 244.3 97.1 243.7 97.4 243.2 97.7 242.7 97.9 242.2 98.1 241.8 98.4 241.4 98.6 241.0 98.8 240.7 99.1 240.3 99.4 239.9 99.7 239.5 100.0 239.1 100.4 238.7 100.7 238.3 101.0 238.0 101.2 237.7 101.5 237.4 101.7 237.2 102.0 237.0 102.3 236.8 102.7 236.5 103.3 236.1 103.7 235.7 104.1 235.3 104.5 234.9 104.9 234.5 105.3 234.2 105.6 233.8 106.0 233.6 106.3 233.3 106.6 233.1 107.0 233.0 107.3 232.8 107.8 232.6 108.2 232.4 108.8 232.2 109.3 231.9 109.9 231.7 110.3 231.4 110.8 231.1 111.3 230.9 111.8 230.6 112.4 230.2 113.0 229.9 113.6 229.5 114.3 229.0 115.0 228.4 115.7 227.8 116.2 227.3 116.5 226.9 116.7 226.7 116.8 226.6 116.9 226.5 117.1 226.5 117.3 226.3 117.7 226.2 118.1 226.0 118.5 225.8 119.0 225.6 119.5 225.4 120.0 225.2 120.5 225.0 121.0 224.7 121.4 224.5 121.9 224.3 122.4 224.1 122.9 223.9 123.4 223.6 124.0 223.4 124.5 223.2 125.0 222.9 125.5 222.7 126.0 222.5 126.5 222.2 127.1 222.0 127.6 221.8 128.1 221.6 128.7 221.4 129.2 221.2 129.6 221.0 130.1 220.8 130.6 220.7 131.0 220.5 131.4 220.4 131.9 220.3 132.4 220.2 132.9 220.1 133.5 220.0 134.0 219.8 134.6 219.7 135.2 219.6 135.8 219.4 136.4 219.3 137.0 219.2 137.6 219.0 138.1 218.9 138.7 218.8 139.3 218.7 139.8 218.6 140.4 218.5 141.0 218.4 141.5 218.3 142.0 218.2 142.5 218.1 143.0 218.1 143.6 218.0 144.1 217.9 144.6 217.9 145.1 217.9 145.6 217.8 146.1 217.8 146.6 217.7 147.1 217.7 147.6 217.7 148.1 217.7 148.7 217.6 149.2 217.6 149.8 217.6 150.3 217.6 150.9 217.6 151.4 217.5 152.0 217.5 152.6 217.5 153.2 217.5 153.8 217.5 154.4 217.4 155.0 217.4 155.6 217.4 156.2 217.3 156.7 217.3 157.3 217.3 157.8 217.2 158.4 217.2 158.9 217.1 159.4 217.1 160.0 217.1 160.5 217.1 161.1 217.0 161.6 217.0 162.2 217.0 162.8 216.9 163.3 216.9 163.9 216.9 164.5 216.8 165.0 216.8 165.6 216.7 166.1 216.7 166.6 216.7 167.1 216.6 167.6 216.6 168.1 216.6 168.6 216.5 169.1 216.5 169.6 216.5 170.1 216.5 170.7 216.5 171.3 216.5 171.8 216.4 172.4 216.4 172.9 216.4 173.5 216.4 174.0 216.3 174.6 216.3 175.1 216.3 175.6 216.2 176.2 216.2 176.7 216.2 177.3 216.1 177.9 216.1 178.4 216.1 179.0 216.0 179.6 216.0 180.1 216.0 180.7 215.9 181.2 215.9 181.8 215.9 182.4 215.8 182.9 215.8 183.4 215.8 184.0 215.8 184.5 215.7 185.0 215.7 185.6 215.7 186.1 215.6 186.6 215.6 187.2 215.6 187.7 215.6 188.2 215.6 188.7 215.6 189.2 215.5 189.7 215.5 190.3 215.6 190.9 215.6 191.5 215.6 192.0 215.6 192.5 215.6 193.0 215.6 193.3 215.6 193.5 208.0 193.2 208.0 192.8 208.0 192.3 207.9 191.7 207.9 191.1 207.9 190.4 207.9 189.8 207.9 189.2 207.9 188.6 207.8 188.1 207.8 187.5 207.9 187.0 207.9 186.4 207.9 185.9 207.9 185.3 207.9 184.8 207.9 184.2 207.9 183.6 207.9 183.1 208.0 182.5 208.0 182.0 208.0 181.4 208.0 180.9 208.0 180.3 208.1 179.8 208.1 179.2 208.1 178.6 208.1 178.1 208.1 177.5 208.1 176.9 208.2 176.4 208.2 175.8 208.2 175.3 208.2 174.7 208.2 174.2 208.3 173.6 208.3 173.1 208.3 172.6 208.3 172.1 208.3 171.6 208.4 171.1 208.4 170.5 208.4 170.0 208.4 169.5 208.4 168.9 208.4 168.4 208.4 167.8 208.4 167.2 208.4 166.6 208.4 166.0 208.5 165.5 208.5 164.9 208.6 164.4 208.6 163.9 208.6 163.4 208.7 162.9 208.7 162.3 208.7 161.8 208.7 161.3 208.8 160.7 208.8 160.2 208.8 159.6 208.8 159.1 208.8 158.5 208.9 157.9 208.9 157.4 208.9 156.8 208.9 156.3 208.9 155.8 208.9 155.2 208.9 154.7 208.9 154.2 209.0 153.7 208.9 153.2 208.9 152.6 208.9 152.1 208.9 151.5 208.9 150.9 208.8 150.3 208.8 149.8 208.8 149.2 208.8 148.6 208.8 148.0 208.8 147.4 208.8 146.8 208.8 146.1 208.8 145.5 208.8 144.8 208.9 144.2 209.0 143.5 209.0 142.9 209.1 142.3 209.2 141.7 209.3 141.1 209.5 140.5 209.6 139.8 209.7 139.2 209.9 138.6 210.0 138.1 210.2 137.5 210.3 136.9 210.4 136.3 210.6 135.7 210.7 135.1 210.8 134.5 210.9 134.0 211.1 133.4 211.2 132.8 211.3 132.3 211.4 131.8 211.4 131.3 211.5 130.8 211.6 130.2 211.7 129.6 211.8 129.0 211.9 128.4 212.0 127.7 212.2 127.1 212.3 126.5 212.5 125.9 212.6 125.3 212.8 124.7 212.9 124.1 213.1 123.5 213.2 123.0 213.4 122.4 213.5 121.8 213.7 121.2 213.8 120.5 214.0 120.0 214.2 119.4 214.3 118.8 214.5 118.2 214.7 117.6 214.9 117.0 215.1 116.4 215.4 115.8 215.6 115.3 215.8 114.8 216.0 114.3 216.3 113.7 216.6 113.1 216.9 112.5 217.2 111.8 217.6 111.1 218.1 110.3 218.7 109.6 219.3 109.1 219.8 108.7 220.2 108.4 220.5 108.3 220.7 108.1 220.8 107.9 220.9 107.6 221.1 107.2 221.3 106.8 221.6 106.3 221.9 105.8 222.1 105.3 222.4 104.7 222.7 104.3 223.0 103.9 223.3 103.5 223.6 103.0 223.9 102.5 224.2 101.9 224.6 101.3 225.0 100.7 225.5 100.1 225.9 99.5 226.4 99.0 226.8 98.5 227.3 98.0 227.7 97.5 228.1 97.1 228.4 96.7 228.7 96.3 229.1 95.9 229.5 95.5 230.0 95.0 230.5 94.5 231.1 94.0 231.7 93.6 232.2 93.2 232.8 92.9 233.4 92.5 233.9 92.2 234.5 91.8 235.1 91.5 235.7 91.2 236.3 90.9 236.9 90.6 237.5 90.4 238.1 90.1 238.7 89.9 239.2 89.8 239.6 89.6 240.1 89.4 240.5 89.2 241.0 89.0 241.5 88.8 242.0 88.6 242.5 88.4 243.0 88.2 243.5 88.0 244.0 87.7 244.6 87.5 245.1 87.4 245.6 87.2 246.1 87.0 246.6 86.8 247.1 86.6 247.6 86.4 248.2 86.2 248.7 86.1 249.2 85.9 249.8 85.7 250.3 85.5 250.9 85.3 251.5 85.2 252.0 85.0 252.6 84.8 253.1 84.6 253.8 84.5 254.3 84.3 254.9 84.1 255.5 84.0 256.1 83.9 256.6 83.7 257.2 83.6 257.8 83.4 258.3 83.3 258.9 83.2 259.4 83.1 260.0 82.9 260.5 82.8 261.0 82.7 261.6 82.5 262.1 82.4 262.7 82.3 263.3 82.1 263.8 82.0 264.4 81.8 265.0 81.7 265.5 81.5 266.1 81.3 266.8 81.2 267.4 81.0 268.0 80.9 268.5 80.8 269.0 80.7 269.4 80.5 269.8 80.3 270.1 79.9 270.7 79.6 271.6 79.4 272.1 79.3 272.5 79.2 273.0 79.1 273.6 79.0 274.2 78.8 274.8 78.7 275.4 78.6 276.0 78.5 276.6 78.4 277.2 78.3 277.8 78.2 278.3 78.1 278.9 78.0 279.5 77.9 280.1 77.8 280.7 77.7 281.3 77.6 281.9 77.5 282.5 77.4 283.1 77.3 283.7 77.2 284.3 77.1 284.8 77.0 285.4 76.9 285.9 76.9 286.5 76.8 287.0 76.7 287.5 76.6 288.1 76.5 288.6 76.4 289.2 76.3 289.7 76.2 290.2 76.1 290.8 76.0 291.3 75.9 291.9 75.8 292.4 75.7 292.9 75.5 293.5 75.4 294.0 75.3 294.6 75.2 295.1 75.1 295.6 75.0 296.1 74.8 296.7 74.7 297.2 74.5 297.7 74.4 298.3 74.2 298.8 74.0 299.4 73.8 299.9 73.6 300.5 73.4 301.0 73.2 301.6 73.0 302.1 72.8 302.6 72.6 303.1 72.4 303.5 72.2 304.1 71.9 304.7 71.7 305.2 71.4 305.7 71.2 306.2 70.9 306.6 70.7 307.0 70.4 307.4 70.2 307.8 69.9 308.3 69.5 308.8 69.2 309.2 68.9 309.5 68.6 309.7Z" fill="#000" stroke="#000" stroke-width="0.3" stroke-linejoin="round"/>
<path d="M319.0 309.4 319.2 309.2 319.5 308.8 319.9 308.4 320.3 307.9 320.8 307.4 321.2 306.8 321.7 306.3 322.1 305.8 322.4 305.2 322.8 304.7 323.1 304.2 323.4 303.6 323.7 303.1 324.0 302.6 324.3 302.1 324.6 301.7 324.9 301.2 325.2 300.8 325.5 300.4 325.8 300.0 326.1 299.5 326.3 299.1 326.6 298.7 326.9 298.1 327.2 297.6 327.5 297.1 327.7 296.6 327.9 296.1 328.2 295.6 328.4 295.0 328.7 294.4 328.9 293.9 329.2 293.4 329.4 292.9 329.6 292.4 329.9 291.9 330.2 291.5 330.4 291.1 330.7 290.8 331.0 290.3 331.3 290.0 331.6 289.6 332.0 289.2 332.3 288.8 332.7 288.4 333.1 287.9 333.6 287.5 333.9 287.1 334.3 286.7 334.7 286.2 335.1 285.8 335.5 285.3 335.8 284.9 336.2 284.5 336.5 284.1 336.8 283.8 337.3 283.3 337.7 282.9 338.0 282.6 338.4 282.3 338.8 281.9 339.2 281.6 339.6 281.2 340.1 280.8 340.5 280.5 341.0 280.2 341.4 279.8 341.9 279.5 342.3 279.3 342.7 279.1 343.2 278.9 343.7 278.7 344.2 278.5 344.8 278.3 345.3 278.1 345.8 277.9 346.3 277.7 346.8 277.5 347.3 277.3 347.8 277.1 348.3 277.0 348.8 276.8 349.4 276.6 349.9 276.4 350.5 276.1 351.1 275.7 351.6 275.3 352.1 274.9 352.6 274.5 353.0 274.0 353.5 273.6 353.9 273.1 354.4 272.7 354.8 272.2 355.2 271.8 355.5 271.4 355.9 271.0 356.3 270.6 356.7 270.2 357.1 269.8 357.4 269.4 357.8 269.0 358.2 268.5 358.6 268.1 358.9 267.6 359.3 267.1 359.6 266.6 359.9 266.2 360.2 265.7 360.5 265.2 360.9 264.7 361.2 264.2 361.5 263.7 361.9 263.1 362.3 262.6 362.6 262.2 362.9 261.8 363.2 261.4 363.6 260.9 364.0 260.5 364.4 260.0 364.7 259.5 365.1 259.0 365.5 258.6 365.9 258.1 366.3 257.6 366.7 257.2 367.0 256.7 367.4 256.3 367.7 255.9 368.2 255.4 368.6 254.9 369.0 254.4 369.3 254.0 369.7 253.6 370.1 253.1 370.5 252.7 370.8 252.3 371.2 251.8 371.6 251.4 371.9 251.0 372.3 250.5 372.7 250.1 373.1 249.6 373.5 249.2 373.9 248.7 374.3 248.3 374.7 247.8 375.1 247.4 375.4 247.0 375.8 246.5 376.1 246.1 376.5 245.6 376.9 245.2 377.3 244.7 377.7 244.2 378.1 243.8 378.4 243.3 378.8 242.9 379.2 242.4 379.5 241.9 379.9 241.4 380.2 240.8 380.6 240.3 380.9 239.8 381.2 239.3 381.6 238.8 381.9 238.3 382.2 237.8 382.5 237.3 382.8 236.9 383.2 236.4 383.6 235.9 383.9 235.5 384.3 235.1 384.7 234.6 385.1 234.2 385.4 233.8 385.8 233.4 386.2 233.0 386.6 232.5 387.1 232.1 387.5 231.7 388.0 231.3 388.4 230.9 388.8 230.6 389.2 230.3 389.5 230.0 389.9 229.8 390.1 229.9 390.7 229.7 391.5 229.3 392.0 228.9 392.4 228.5 392.9 228.1 393.4 227.7 393.8 227.3 394.3 226.9 394.8 226.6 395.2 226.3 395.6 226.0 396.0 225.8 396.4 225.6 396.8 225.4 397.3 225.3 397.7 225.1 398.3 224.9 398.8 224.7 399.3 224.5 399.9 224.3 400.4 224.1 400.9 224.0 401.4 223.8 402.0 223.6 402.5 223.4 403.1 223.1 403.7 222.9 404.3 222.6 404.9 222.3 405.4 222.0 405.9 221.7 406.4 221.4 406.8 221.2 407.3 221.0 407.7 220.8 408.1 220.7 408.5 220.5 408.9 220.4 409.4 220.3 409.9 220.2 410.4 220.1 411.0 219.9 411.6 219.7 412.2 219.6 412.7 219.5 413.3 219.3 413.8 219.1 414.4 219.0 415.0 218.8 415.6 218.7 416.2 218.5 416.8 218.3 417.3 218.2 417.9 218.0 418.4 217.8 418.9 217.6 419.4 217.5 420.0 217.3 420.5 217.1 421.1 216.9 421.7 216.7 422.3 216.6 422.8 216.4 423.3 216.3 423.8 216.2 424.4 216.1 424.9 215.9 425.5 215.8 426.1 215.7 426.6 215.6 427.2 215.4 427.8 215.3 428.3 215.2 428.9 215.1 429.4 215.0 430.0 214.9 430.6 214.7 431.2 214.6 431.7 214.5 432.3 214.4 432.9 214.3 433.5 214.2 434.0 214.1 434.6 214.1 435.2 214.0 435.7 213.9 436.3 213.8 436.8 213.8 437.4 213.7 438.0 213.7 438.5 213.7 439.1 213.6 439.7 213.6 440.3 213.6 440.9 213.6 441.5 213.5 442.1 213.5 442.6 213.5 443.2 213.5 443.8 213.5 444.3 213.5 444.8 213.5 445.4 213.6 446.1 213.6 446.7 213.7 447.4 213.7 448.0 213.8 448.6 213.8 449.1 213.9 449.6 213.9 450.0 214.0 450.4 214.0 450.8 209.2 450.5 209.2 450.1 209.1 449.6 209.1 449.1 209.0 448.5 208.9 447.8 208.9 447.1 208.8 446.4 208.7 445.7 208.7 445.0 208.7 444.5 208.6 443.9 208.6 443.3 208.6 442.7 208.5 442.1 208.5 441.5 208.5 440.9 208.5 440.2 208.5 439.6 208.5 438.9 208.5 438.3 208.5 437.6 208.5 437.0 208.6 436.4 208.6 435.7 208.7 435.1 208.7 434.5 208.8 433.9 208.9 433.3 209.0 432.6 209.1 432.0 209.2 431.4 209.3 430.8 209.4 430.2 209.5 429.6 209.6 429.0 209.7 428.4 209.9 427.9 210.0 427.3 210.1 426.7 210.2 426.1 210.3 425.5 210.5 424.9 210.6 424.3 210.7 423.7 210.9 423.2 211.0 422.6 211.1 422.1 211.3 421.6 211.4 421.1 211.5 420.4 211.7 419.7 211.9 419.1 212.0 418.5 212.2 417.9 212.3 417.4 212.5 416.8 212.6 416.3 212.8 415.8 212.9 415.2 213.1 414.6 213.2 414.0 213.4 413.5 213.6 412.9 213.8 412.3 214.0 411.8 214.2 411.2 214.3 410.7 214.5 410.2 214.7 409.6 214.8 409.1 214.9 408.6 215.1 408.1 215.2 407.5 215.4 407.0 215.5 406.4 215.7 405.7 216.0 405.1 216.3 404.5 216.5 403.9 216.8 403.4 217.1 402.9 217.4 402.4 217.7 401.9 217.9 401.5 218.1 401.0 218.3 400.6 218.5 400.1 218.8 399.6 219.0 399.0 219.2 398.5 219.4 398.0 219.7 397.5 219.9 397.0 220.1 396.5 220.3 396.0 220.5 395.4 220.7 394.9 221.0 394.3 221.3 393.7 221.6 393.0 222.0 392.5 222.3 391.9 222.8 391.3 223.2 390.8 223.6 390.3 224.1 389.8 224.5 389.4 224.8 389.0 225.1 388.7 225.3 388.3 225.7 388.1 225.9 387.5 226.4 386.9 227.0 386.5 227.3 386.1 227.7 385.7 228.2 385.3 228.6 384.9 229.1 384.5 229.6 384.0 230.1 383.6 230.6 383.2 231.1 382.9 231.5 382.5 232.0 382.1 232.4 381.7 232.9 381.3 233.4 380.9 233.9 380.6 234.4 380.2 234.9 379.8 235.4 379.5 235.9 379.1 236.5 378.8 237.0 378.4 237.5 378.1 238.0 377.8 238.5 377.5 239.0 377.2 239.5 376.9 239.9 376.5 240.4 376.2 240.9 375.8 241.3 375.5 241.8 375.2 242.2 374.8 242.7 374.4 243.1 374.1 243.6 373.7 244.1 373.3 244.5 373.0 244.9 372.6 245.4 372.3 245.8 371.9 246.3 371.5 246.7 371.2 247.2 370.8 247.7 370.4 248.1 370.0 248.6 369.7 249.0 369.3 249.5 368.9 249.9 368.6 250.3 368.2 250.8 367.8 251.2 367.5 251.6 367.1 252.1 366.7 252.6 366.3 253.0 365.9 253.6 365.5 254.1 365.2 254.5 364.8 254.9 364.5 255.4 364.1 255.8 363.7 256.3 363.3 256.8 362.9 257.3 362.6 257.8 362.2 258.3 361.8 258.7 361.4 259.2 361.1 259.7 360.7 260.1 360.4 260.6 360.1 261.0 359.7 261.6 359.3 262.2 358.9 262.8 358.6 263.3 358.3 263.8 358.0 264.3 357.7 264.7 357.4 265.2 357.2 265.6 356.9 266.0 356.5 266.5 356.2 266.9 355.9 267.3 355.5 267.6 355.2 268.0 354.8 268.4 354.5 268.8 354.1 269.2 353.7 269.6 353.3 270.0 352.9 270.4 352.5 270.9 352.0 271.3 351.6 271.8 351.2 272.2 350.8 272.6 350.4 272.9 350.0 273.3 349.7 273.5 349.2 273.8 348.8 274.0 348.4 274.2 348.0 274.3 347.5 274.5 347.0 274.7 346.4 274.9 345.8 275.1 345.3 275.3 344.9 275.5 344.3 275.7 343.8 275.9 343.3 276.1 342.7 276.3 342.2 276.5 341.7 276.8 341.2 277.0 340.7 277.3 340.0 277.6 339.4 278.0 338.9 278.4 338.4 278.8 338.0 279.2 337.5 279.6 337.2 279.9 336.7 280.3 336.2 280.7 335.9 281.1 335.4 281.5 335.0 282.0 334.6 282.4 334.3 282.8 333.9 283.2 333.5 283.6 333.1 284.1 332.7 284.5 332.3 284.9 332.0 285.4 331.6 285.7 331.2 286.2 330.8 286.6 330.4 287.0 330.0 287.5 329.7 287.9 329.3 288.3 329.0 288.7 328.6 289.2 328.2 289.7 327.9 290.2 327.7 290.6 327.4 291.2 327.1 291.7 326.8 292.3 326.6 292.8 326.3 293.4 326.1 293.9 325.8 294.4 325.6 295.0 325.3 295.5 325.1 295.9 324.9 296.4 324.6 296.9 324.4 297.3 324.1 297.7 323.9 298.1 323.6 298.5 323.4 298.9 323.1 299.3 322.7 299.8 322.4 300.3 322.1 300.8 321.8 301.3 321.5 301.8 321.2 302.3 320.9 302.8 320.6 303.3 320.3 303.8 319.9 304.2 319.6 304.7 319.2 305.2 318.8 305.7 318.4 306.2 317.9 306.7 317.6 307.1 317.3 307.5 317.0 307.8Z" fill="#000" stroke="#000" stroke-width="0.3" stroke-linejoin="round"/>
</svg>
</body></html>
